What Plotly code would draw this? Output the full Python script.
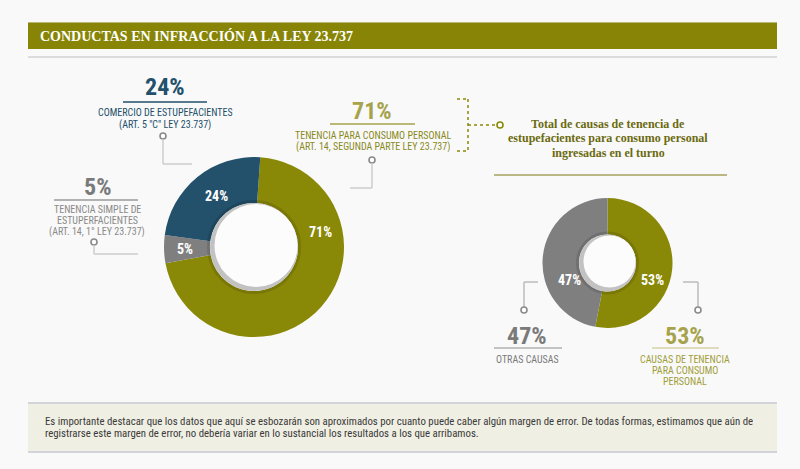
import plotly.graph_objects as go

# data
left_labels = ["Tenencia para consumo personal", "Tenencia simple", "Comercio de estupefacientes"]
left_values = [71, 5, 24]
left_colors = ["#8a8807", "#7f7f7f", "#23506a"]

right_labels = ["Causas de tenencia para consumo personal", "Otras causas"]
right_values = [53, 47]
right_colors = ["#8a8807", "#7f7f7f"]

W, H = 800, 469
NARROW = "Liberation Sans Narrow, Roboto Condensed, Roboto, sans-serif"
SERIF = "Liberation Serif, DejaVu Serif, serif"


def px(x):
    return x / W


def py(y):
    return 1 - y / H


shapes = []
annotations = []


def line(x0, y0, x1, y1, color, width=1.5, dash="solid"):
    shapes.append(dict(type="line", xref="paper", yref="paper",
                       x0=px(x0), y0=py(y0), x1=px(x1), y1=py(y1),
                       line=dict(color=color, width=width, dash=dash)))


def circle(cx, cy, r, fill, color=None, width=0):
    shapes.append(dict(type="circle", xref="paper", yref="paper",
                       x0=px(cx - r), x1=px(cx + r), y0=py(cy + r), y1=py(cy - r),
                       fillcolor=fill, line=dict(color=color or fill, width=width)))


def rect(x0, y0, x1, y1, fill):
    shapes.append(dict(type="rect", xref="paper", yref="paper",
                       x0=px(x0), x1=px(x1), y0=py(y1), y1=py(y0),
                       fillcolor=fill, line=dict(width=0), layer="below"))


def txt(x, y, s, size, color, bold=False, family=NARROW, anchor="center", h=None):
    a = dict(x=px(x), y=py(y), xref="paper", yref="paper",
             text=s, showarrow=False, xanchor=anchor, yanchor="middle",
             font=dict(size=size, color=color, family=family,
                       weight="bold" if bold else "normal"))
    if h:
        a["height"] = h
    annotations.append(a)


def marker(cx, cy, color):
    circle(cx, cy, 3, "#ffffff", color, 1.6)


fig = go.Figure()

# left donut: center (254, 247), r 90
fig.add_trace(go.Pie(
    labels=left_labels, values=left_values, sort=False, direction="clockwise",
    rotation=4, hole=0.49, textinfo="none", hoverinfo="label+percent",
    marker=dict(colors=left_colors, line=dict(width=0)),
    domain=dict(x=[px(164), px(344)], y=[py(337), py(157)]),
    showlegend=False,
))

# right donut: center (607.5, 263), r 65
fig.add_trace(go.Pie(
    labels=right_labels, values=right_values, sort=False, direction="clockwise",
    rotation=0, hole=0.44, textinfo="none", hoverinfo="label+percent",
    marker=dict(colors=right_colors, line=dict(width=0)),
    domain=dict(x=[px(542.5), px(672.5)], y=[py(328), py(198)]),
    showlegend=False,
))

# hole shading
for cx, cy, rh in [(254, 247, 44), (607.5, 263, 28.5)]:
    circle(cx, cy, rh + 1.5, "rgba(0,0,0,0)", "rgba(0,0,0,0.12)", 3)
    circle(cx, cy, rh, "#c2c2c2")
    circle(cx + 2, cy - 1.5, rh - 2.5, "#fcfcfc")

# slice labels
for v, (x, y) in zip(left_values, [(320, 232), (185, 249), (216, 196)]):
    txt(x, y, f"{v}%", 14, "#ffffff", bold=True)
for v, (x, y) in zip(right_values, [(652, 280), (569, 280)]):
    txt(x, y, f"{v}%", 14, "#ffffff", bold=True)

# title bar
rect(28, 22, 777, 49, "#888506")
line(28, 22.5, 777, 22.5, "#b9b77c", 1)
line(28, 57, 777, 57, "#dcdcdc", 2)
txt(38, 36, "CONDUCTAS EN INFRACCIÓN A LA LEY 23.737", 14, "#ffffff", bold=True,
    family=SERIF, anchor="left")

# comercio (24%)
blue = "#23506a"
txt(165, 87, f"{left_values[2]}%", 24, blue, bold=True)
line(123, 102, 207, 102, blue, 1.5)
txt(165, 113, "COMERCIO DE ESTUPEFACIENTES", 10, blue, h=11)
txt(165, 124, "(ART. 5 \"C\" LEY 23.737)", 10, blue, h=11)
marker(163, 136, "#8a8a8a")
line(163, 139, 163, 164, "#cccccc")
line(163, 164, 192, 164, "#cccccc")

# tenencia para consumo (71%)
olive_l = "#a6a34c"
olive_t = "#8a8a1e"
txt(372, 111, f"{left_values[0]}%", 24, olive_l, bold=True)
line(330, 124, 415, 124, olive_l, 1.5)
txt(373, 135, "TENENCIA PARA CONSUMO PERSONAL", 10, olive_t, h=11)
txt(373, 146, "(ART. 14, SEGUNDA PARTE LEY 23.737)", 10, olive_t, h=11)
marker(372, 160, "#8a8a8a")
line(372, 163, 372, 188, "#cccccc")
line(350, 188, 372, 188, "#cccccc")

# dotted bracket
dot = "#8a8807"
line(457, 99, 468, 99, dot, 1.5, "dot")
line(468, 99, 468, 151, dot, 1.5, "dot")
line(457, 151, 468, 151, dot, 1.5, "dot")
line(468, 125, 497, 125, dot, 1.5, "dot")
marker(500, 125, dot)

# right title
rt = "#6b6a10"
txt(608, 124.5, "Total de causas de tenencia de", 12, rt, bold=True, family=SERIF, h=14)
txt(608, 138.5, "estupefacientes para consumo personal", 12, rt, bold=True, family=SERIF, h=14)
txt(608, 152.5, "ingresadas en el turno", 12, rt, bold=True, family=SERIF, h=14)
line(494, 175, 727, 175, "#7a7810", 1)

# tenencia simple (5%)
grey = "#7a7a7a"
txt(97, 187, f"{left_values[1]}%", 24, grey, bold=True)
line(54, 200, 138, 200, "#9a9a9a", 1.5)
txt(97, 209, "TENENCIA SIMPLE DE", 10, "#8a8a8a", h=11)
txt(97, 220, "ESTUPERFACIENTES", 10, "#8a8a8a", h=11)
txt(97, 231, "(ART. 14, 1° LEY 23.737)", 10, "#8a8a8a", h=11)
marker(94, 242, "#8a8a8a")
line(94, 245, 94, 254, "#cccccc")
line(94, 254, 138, 254, "#cccccc")

# otras causas (47%)
line(524, 282, 538, 282, "#bbbbbb")
line(524, 282, 524, 307, "#bbbbbb")
marker(524, 310, "#8a8a8a")
txt(527, 336, f"{right_values[1]}%", 24, grey, bold=True)
line(494, 348, 562, 348, "#b0b0b0", 1.5)
txt(527, 359, "OTRAS CAUSAS", 10, grey, h=11)

# causas de tenencia (53%)
line(683, 282, 698, 282, "#bbbbbb")
line(698, 282, 698, 307, "#bbbbbb")
marker(698, 310, "#8a8a8a")
txt(685, 336, f"{right_values[0]}%", 24, olive_l, bold=True)
line(652, 348, 719, 348, "#d4d2a6", 1.5)
txt(685, 359, "CAUSAS DE TENENCIA", 10, "#a09e3a", h=11)
txt(685, 370, "PARA CONSUMO", 10, "#a09e3a", h=11)
txt(685, 381, "PERSONAL", 10, "#a09e3a", h=11)

# footnote box
rect(28, 404, 777, 451, "#f0efe3")
line(28, 403, 777, 403, "#c5c7cf", 1.5)
line(28, 452, 777, 452, "#c5c7cf", 1.5)
txt(43, 421, "Es importante destacar que los datos que aquí se esbozarán son aproximados por cuanto "
    "puede caber algún margen de error. De todas formas, estimamos que aún de", 10.8, "#3a3a3a",
    anchor="left", h=12)
txt(43, 433, "registrarse este margen de error, no debería variar en lo sustancial los resultados "
    "a los que arribamos.", 10.8, "#3a3a3a", anchor="left", h=12)

fig.update_layout(
    width=W, height=H, autosize=False,
    margin=dict(l=0, r=0, t=0, b=0),
    paper_bgcolor="#f9f9f9", plot_bgcolor="#f9f9f9",
    shapes=shapes, annotations=annotations,
)

fig.write_html("out.html", config={"displayModeBar": False},
               post_script="document.body.style.margin='0';")
